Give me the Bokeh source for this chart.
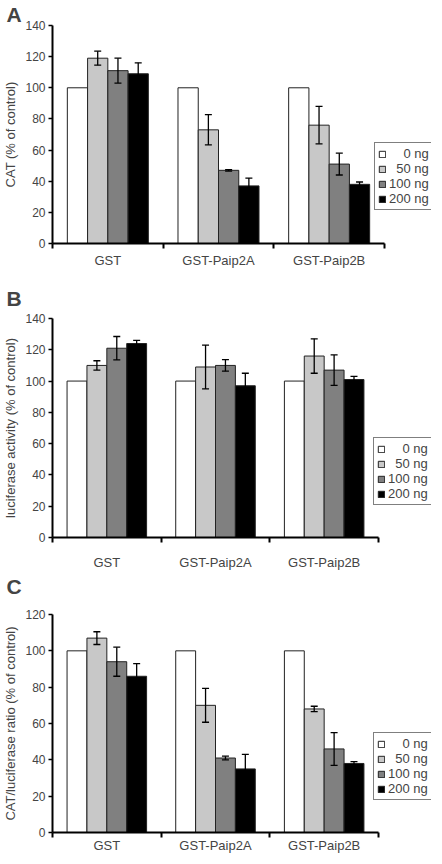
from bokeh.plotting import figure
from bokeh.models import (ColumnDataSource, Range1d, FixedTicker,
                          Whisker, TeeHead, Legend, LegendItem, Title)
from bokeh.transform import dodge
from bokeh.layouts import column
from bokeh.embed import file_html
from bokeh.resources import INLINE

groups = ["GST", "GST-Paip2A", "GST-Paip2B"]
doses = ["0 ng", "50 ng", "100 ng", "200 ng"]
colors = ["#ffffff", "#c8c8c8", "#808080", "#000000"]

# Panel A: CAT (% of control)
a_0 = [100, 100, 100]
a_50 = [119, 73, 76]
a_100 = [111, 47, 51]
a_200 = [109, 37, 38]
a_err_50 = [4.5, 9.7, 12]
a_err_100 = [8, 0.5, 7]
a_err_200 = [7, 5, 1.5]

# Panel B: luciferase activity (% of control)
b_0 = [100, 100, 100]
b_50 = [110, 109, 116]
b_100 = [121, 110, 107]
b_200 = [124, 97, 101]
b_err_50 = [3, 14, 11]
b_err_100 = [7.5, 3.7, 9.7]
b_err_200 = [2, 8, 2]

# Panel C: CAT/luciferase ratio (% of control)
c_0 = [100, 100, 100]
c_50 = [107, 70, 68]
c_100 = [94, 41, 46]
c_200 = [86, 35, 38]
c_err_50 = [3.5, 9.3, 1.5]
c_err_100 = [8, 1, 9]
c_err_200 = [7, 8, 1]

y_ticks_A = [0, 20, 40, 60, 80, 100, 120, 140]
y_ticks_B = [0, 20, 40, 60, 80, 100, 120, 140]
y_ticks_C = [0, 20, 40, 60, 80, 100, 120]

FONT = "Liberation Sans"
OFFSETS = [-0.2745, -0.0915, 0.0915, 0.2745]
BAR_W = 0.183
FRAME_W = 379


def panel(letter, ylabel, vals, errs, yticks, group_px, top, frame_h, bottom,
          leg_loc, label_standoff, gap):
    n = len(groups)
    centers = [i + 0.5 for i in range(n)]
    x_end = n * FRAME_W / group_px
    p = figure(x_range=Range1d(0, x_end), y_range=Range1d(yticks[0], yticks[-1]),
               frame_width=FRAME_W, frame_height=frame_h,
               output_backend="svg", toolbar_location=None,
               min_border_left=47, min_border_right=0,
               min_border_top=top, min_border_bottom=bottom)
    p.outline_line_color = None
    p.xgrid.visible = False
    p.ygrid.visible = False
    p.background_fill_color = "white"

    p.title.text = letter
    p.title.text_font = FONT
    p.title.text_font_size = "21px"
    p.title.text_font_style = "bold"
    p.title.align = "left"
    p.title.offset = -46
    p.title.standoff = 0

    if gap > 0:
        # blank spacer between the panel letter and the plot frame
        p.add_layout(Title(text=" ", text_font_size="1px", standoff=gap), "above")

    # y axis
    ya = p.yaxis[0]
    ya.ticker = FixedTicker(ticks=yticks)
    ya.axis_label = ylabel
    ya.axis_label_text_font = FONT
    ya.axis_label_text_font_size = "13px"
    ya.axis_label_text_font_style = "normal"
    ya.axis_label_standoff = 4
    ya.major_label_text_font = FONT
    ya.major_label_text_font_size = "12px"
    ya.major_label_standoff = 3
    ya.axis_line_width = 2
    ya.major_tick_in = 0
    ya.major_tick_out = 4
    ya.major_tick_line_width = 1.5
    ya.minor_tick_line_color = None

    # x axis: category labels at centres, tick marks at group boundaries
    xa = p.xaxis[0]
    xa.bounds = (0, n)
    xa.ticker = FixedTicker(ticks=centers, minor_ticks=list(range(n + 1)))
    xa.major_label_overrides = {c: g for c, g in zip(centers, groups)}
    xa.major_label_text_font = FONT
    xa.major_label_text_font_size = "13px"
    xa.major_label_standoff = label_standoff
    xa.major_tick_line_color = None
    xa.major_tick_out = 5
    xa.minor_tick_in = 0
    xa.minor_tick_out = 5
    xa.minor_tick_line_width = 2
    xa.axis_line_width = 2

    data = {"group": groups, "center": centers}
    for d, v in zip(doses, vals):
        data[d] = v
    for d, e, v in zip(doses[1:], errs, vals[1:]):
        data[d + "_up"] = [a + b for a, b in zip(v, e)]
        data[d + "_lo"] = [a - b for a, b in zip(v, e)]
    src = ColumnDataSource(data)

    items = []
    for d, off, c in zip(doses, OFFSETS, colors):
        r = p.vbar(x=dodge("center", off), top=d, width=BAR_W,
                   bottom=0, source=src, fill_color=c, line_color="#222222", line_width=1)
        items.append(LegendItem(label=d.rjust(6, "\u2007"), renderers=[r]))

    for d, off in zip(doses[1:], OFFSETS[1:]):
        w = Whisker(base=dodge("center", off), upper=d + "_up", lower=d + "_lo",
                    source=src, line_color="black", line_width=1.3, level="overlay",
                    upper_head=TeeHead(size=7, line_width=1.3, line_color="black"),
                    lower_head=TeeHead(size=7, line_width=1.3, line_color="black"))
        p.add_layout(w)

    leg = Legend(items=items, location=leg_loc)
    leg.label_text_font = FONT
    leg.label_text_font_size = "13px"
    leg.label_height = 14
    leg.label_standoff = 3
    leg.glyph_width = 8
    leg.glyph_height = 8
    leg.spacing = 0
    leg.padding = 3
    leg.margin = 0
    leg.border_line_color = "black"
    leg.border_line_width = 1
    leg.background_fill_alpha = 1
    p.add_layout(leg)
    return p


pA = panel("A", "CAT (% of control)", [a_0, a_50, a_100, a_200],
           [a_err_50, a_err_100, a_err_200], y_ticks_A, 332, 24, 218, 38, (322, 33), 4, 0)
pB = panel("B", "luciferase activity (% of control)", [b_0, b_50, b_100, b_200],
           [b_err_50, b_err_100, b_err_200], y_ticks_B, 326, 37, 219, 32, (321, 32), 12, 6)
pC = panel("C", "CAT/luciferase ratio (% of control)", [c_0, c_50, c_100, c_200],
           [c_err_50, c_err_100, c_err_200], y_ticks_C, 326, 42, 218, 20, (321, 32), 0, 14)

layout = column(pA, pB, pC, spacing=0)
open("out.html", "w").write(file_html(layout, INLINE))
